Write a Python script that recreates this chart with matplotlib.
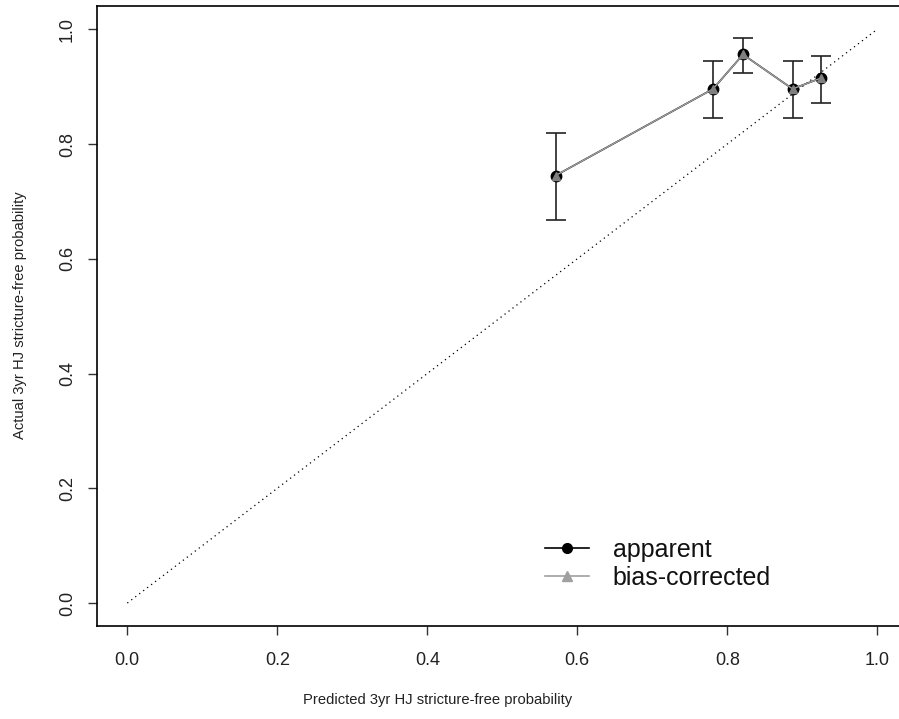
import matplotlib
matplotlib.use("Agg")
import matplotlib.pyplot as plt
from matplotlib.lines import Line2D

plt.rcParams['font.family'] = ['Liberation Sans', 'DejaVu Sans']

predicted = [0.571, 0.781, 0.821, 0.887, 0.925]
apparent = [0.745, 0.896, 0.956, 0.896, 0.915]
bias_corrected = [0.745, 0.896, 0.956, 0.896, 0.915]
err_low = [0.667, 0.846, 0.924, 0.846, 0.872]
err_high = [0.820, 0.945, 0.985, 0.945, 0.953]
ticks = [0.0, 0.2, 0.4, 0.6, 0.8, 1.0]
tick_labels = ["0.0", "0.2", "0.4", "0.6", "0.8", "1.0"]

fig = plt.figure(figsize=(8.99, 7.19), dpi=100)
ax = fig.add_axes([97.3/899, (719-626)/719, 810/899, (626-6.3)/719])
ax.set_xlim(-0.04, 1.04)
ax.set_ylim(-0.04, 1.04)

# ideal line
ax.plot([0, 1], [0, 1], linestyle=(0, (1, 3)), color='black', lw=0.9)

# error bars
yerr = [[a - l for a, l in zip(apparent, err_low)], [h - a for a, h in zip(apparent, err_high)]]
ax.errorbar(predicted, apparent, yerr=yerr, fmt='none', ecolor='#222222',
            elinewidth=1.2, capsize=7, capthick=1.2)

ax.plot(predicted, apparent, color='black', lw=1.2, marker='o', markersize=7.5,
        markerfacecolor='black', markeredgecolor='black')
ax.plot(predicted, bias_corrected, color='#a0a0a0', lw=1.0, marker='^', markersize=6,
        markerfacecolor='#808080', markeredgecolor='#808080')

ax.set_xticks(ticks)
ax.set_xticklabels(tick_labels, fontsize=13)
ax.set_yticks(ticks)
ax.set_yticklabels(tick_labels, fontsize=13, rotation=90, va='center')
ax.tick_params(direction='out', length=6.5, width=1, color='#333333', labelcolor='#222222')
ax.tick_params(axis='x', pad=12)
ax.tick_params(axis='y', pad=9)
for s in ax.spines.values():
    s.set_linewidth(1.2)
    s.set_color('black')

fig.text(438/899, 1 - 700/719, "Predicted 3yr HJ stricture-free probability",
         ha='center', va='center', fontsize=10.6, color='#222222')
fig.text(20/899, 1 - 315/719, "Actual 3yr HJ stricture-free probability",
         ha='center', va='center', rotation=90, fontsize=10.6, color='#222222')

handles = [
    Line2D([], [], color='black', lw=1.2, marker='o', markersize=7, markerfacecolor='black'),
    Line2D([], [], color='#a0a0a0', lw=1.2, marker='^', markersize=7,
           markerfacecolor='#a0a0a0', markeredgecolor='#a0a0a0'),
]
leg = ax.legend(handles, ["apparent", "bias-corrected"], loc='upper left',
                bbox_to_anchor=(545/899, 1 - 538/719), bbox_transform=fig.transFigure,
                frameon=False, fontsize=18, handlelength=1.76, handletextpad=0.95,
                borderpad=0, borderaxespad=0, labelspacing=0.15)
for t in leg.get_texts():
    t.set_color('#111111')

fig.savefig("out.png", dpi=100)
